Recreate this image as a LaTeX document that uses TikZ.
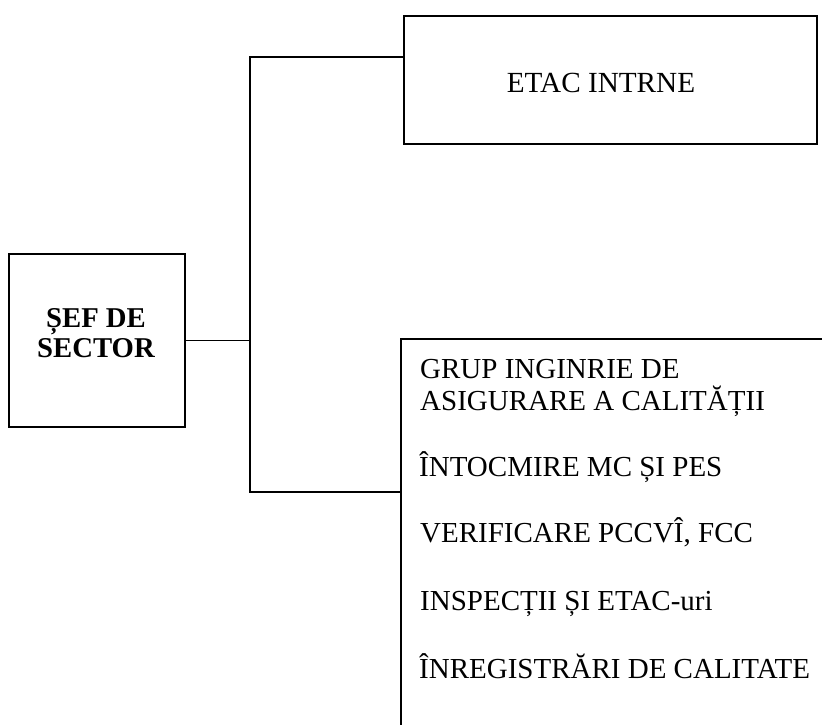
\documentclass[tikz,border=0pt]{standalone}
\usepackage{fontspec}
\setmainfont{Liberation Serif}
\begin{document}
\begin{tikzpicture}[x=1pt,y=-1pt,
  box/.style={draw, line width=1.7pt, inner sep=0pt},
  conn/.style={draw, line width=1.5pt},
  lbl/.style={font=\fontsize{29}{33}\selectfont, inner sep=0pt, anchor=base west},
  clbl/.style={font=\fontsize{29.2}{33}\selectfont, inner sep=0pt, anchor=base},
  blbl/.style={font=\fontsize{28.7}{33}\selectfont\bfseries, inner sep=0pt, anchor=base}]
\useasboundingbox (0,0) rectangle (822,724);

% left box
\node[box, minimum width=176pt, minimum height=173pt, anchor=north west] (sef) at (8,253) {};
\node[blbl] (sefa) at (96,327) {ȘEF DE};
\node[blbl] (sefb) at (96,357) {SECTOR};

% top box
\node[box, minimum width=413pt, minimum height=128pt, anchor=north west] (etac) at (403,15) {};
\node[clbl] (etact) at (601,92) {ETAC INTRNE};

% bottom box (open to the right and bottom)
\node[inner sep=0pt, minimum width=421pt, minimum height=386pt, anchor=north west] (grp) at (401,339) {};
\draw[line width=1.7pt] (grp.north east) -- (grp.north west) -- (grp.south west);
\node[lbl] (g1) at (420,378) {GRUP INGINRIE DE};
\node[lbl] (g2) at (420,410) {ASIGURARE A CALITĂȚII};
\node[lbl] (g3) at (419,476) {ÎNTOCMIRE MC ȘI PES};
\node[lbl] (g4) at (420,542) {VERIFICARE PCCVÎ, FCC};
\node[lbl] (g5) at (420,610) {INSPECȚII ȘI ETAC-uri};
\node[lbl] (g6) at (419,678) {ÎNREGISTRĂRI DE CALITATE};

% connectors
\coordinate (tt) at (250,57);
\coordinate (tb) at (250,492);
\draw[conn, line width=1.2pt] (sef.east) -- (sef.east -| tt);
\draw[conn] (etac.west |- tt) -- (tt) -- (tb) -- (grp.west |- tb);
\end{tikzpicture}
\end{document}
